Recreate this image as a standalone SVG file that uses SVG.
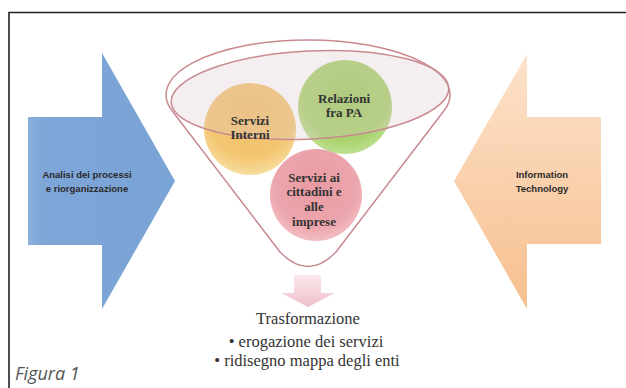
<svg xmlns="http://www.w3.org/2000/svg" width="626" height="388" viewBox="0 0 626 388">
<defs>
<linearGradient id="gBlue" x1="0" y1="0" x2="1" y2="0">
<stop offset="0" stop-color="#8cb0dd"/><stop offset="0.1" stop-color="#7ea6d8"/><stop offset="1" stop-color="#7aa3d6"/>
</linearGradient>
<linearGradient id="gOrange" x1="0" y1="0" x2="0" y2="1">
<stop offset="0" stop-color="#fde2cb"/><stop offset="1" stop-color="#f6bf8e"/>
</linearGradient>
<linearGradient id="gPinkArrow" x1="0" y1="0" x2="0" y2="1">
<stop offset="0" stop-color="#fbe9ed"/><stop offset="1" stop-color="#efbfca"/>
</linearGradient>
<radialGradient id="gYellow" cx="0.5" cy="0.35" r="0.65">
<stop offset="0" stop-color="#f3c068"/><stop offset="0.7" stop-color="#f3c672"/><stop offset="1" stop-color="#f7dc9c"/>
</radialGradient>
<radialGradient id="gGreen" cx="0.5" cy="0.4" r="0.65">
<stop offset="0" stop-color="#9fcd5e"/><stop offset="0.7" stop-color="#a9d36d"/><stop offset="1" stop-color="#c6e39c"/>
</radialGradient>
<radialGradient id="gRed" cx="0.5" cy="0.4" r="0.65">
<stop offset="0" stop-color="#e99aa2"/><stop offset="0.7" stop-color="#eca6ad"/><stop offset="1" stop-color="#f4c7cb"/>
</radialGradient>
<style>
.frame{stroke:#222;stroke-width:1.6;fill:none}
.lbl{font-family:"Liberation Sans",Arial,sans-serif;font-weight:bold;font-size:9.5px;fill:#2a2a2a;text-anchor:middle}
.ctext{font-family:"Liberation Serif","Times New Roman",serif;font-weight:bold;font-size:13px;fill:#333;text-anchor:middle}
.btext{font-family:"Liberation Serif","Times New Roman",serif;font-size:16.5px;fill:#333;text-anchor:middle}
.fun{fill:none;stroke:#c98a8f;stroke-width:1.5}
</style>
</defs>
<rect width="626" height="388" fill="#fff"/>
<g id="frame">
<path class="frame" d="M9,388 V12.5 H626"/>
</g>
<g id="arrow-left">
<path d="M28,117 H102 V53 L175,181 L102,309 V245 H28 Z" fill="url(#gBlue)"/>
<text class="lbl" x="87" y="178">Analisi dei processi</text>
<text class="lbl" x="87" y="192">e riorganizzazione</text>
</g>
<g id="arrow-right">
<path d="M601,117 H527 V54 L454,181 L527,309 V244 H601 Z" fill="url(#gOrange)"/>
<text class="lbl" x="542" y="178">Information</text>
<text class="lbl" x="542" y="192">Technology</text>
</g>
<g id="funnel">
<path class="fun" d="M173,112 A142 55 0 1 1 443,112 L336,252 Q308,281 280,252 Z"/>
</g>
<g id="servizi-interni">
<circle cx="250" cy="129" r="46" fill="url(#gYellow)"/>
</g>
<g id="relazioni">
<circle cx="345" cy="107" r="47" fill="url(#gGreen)"/>
</g>
<g id="servizi-cittadini">
<circle cx="316" cy="195" r="46" fill="url(#gRed)"/>
<text class="ctext" x="314" y="182">Servizi ai</text>
<text class="ctext" x="314" y="196">cittadini e</text>
<text class="ctext" x="314" y="211">alle</text>
<text class="ctext" x="314" y="226">imprese</text>
</g>
<g id="ellipse">
<ellipse cx="310" cy="95" rx="139" ry="44" transform="rotate(-3 310 95)" fill="#dcc6cc" fill-opacity="0.3" stroke="#c98a8f" stroke-width="1.5"/>
</g>
<g id="labels">
<text class="ctext" x="250" y="125">Servizi</text>
<text class="ctext" x="250" y="139">Interni</text>
<text class="ctext" x="344" y="103">Relazioni</text>
<text class="ctext" x="344" y="117">fra PA</text>
</g>
<g id="connectors">
<path d="M294,275 H321 V293 H335 L308,307 L281,293 H294 Z" fill="url(#gPinkArrow)"/>
</g>
<g id="trasformazione">
<text class="btext" x="308" y="324">Trasformazione</text>
<text class="btext" x="306" y="347">• erogazione dei servizi</text>
<text class="btext" x="307" y="366">• ridisegno mappa degli enti</text>
</g>
<text x="15" y="380" font-family="'Open Sans',sans-serif" font-style="italic" font-size="18" fill="#555">Figura 1</text>
</svg>
